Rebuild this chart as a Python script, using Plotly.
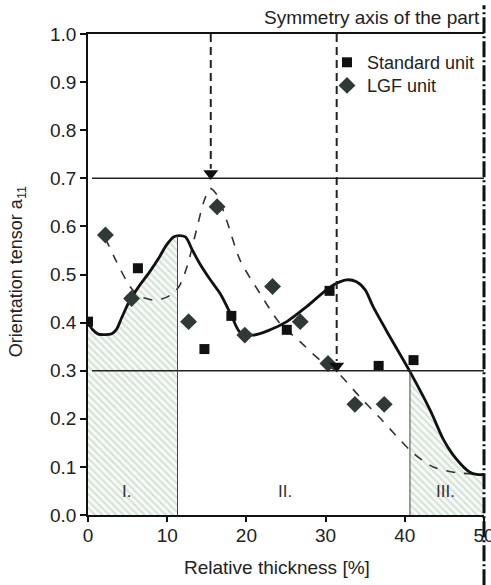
import numpy as np
import plotly.graph_objects as go

# ---------------- data ----------------
std_x = [0, 6.3, 14.7, 18.1, 25.1, 30.5, 36.7, 41.1]
std_y = [0.402, 0.513, 0.345, 0.414, 0.385, 0.466, 0.31, 0.322]

lgf_x = [2.2, 5.5, 12.7, 16.3, 19.8, 23.3, 26.8, 30.3, 33.7, 37.4]
lgf_y = [0.582, 0.45, 0.402, 0.641, 0.374, 0.475, 0.402, 0.315, 0.230, 0.230]

fit_std_x = [0, 0.6, 1.3, 2.2, 3.0, 3.6, 4.25, 5.3, 6.5, 7.8, 9.0, 9.9, 10.8, 11.5,
             12.3, 13.2, 14.1, 15.4, 16.7, 18.1, 19.2, 20.9, 23.0, 25.1, 27.6,
             30.1, 31.4, 32.7, 33.9, 35.0, 36.0, 38.1, 40.65, 43.2, 44.9, 46.0,
             47.0, 47.8, 48.6, 49.3, 50]
fit_std_y = [0.40, 0.385, 0.376, 0.375, 0.377, 0.386, 0.41, 0.447, 0.477, 0.506,
             0.536, 0.561, 0.578, 0.581, 0.578, 0.55, 0.523, 0.49, 0.46, 0.415,
             0.380, 0.374, 0.385, 0.402, 0.433, 0.468, 0.482, 0.489, 0.485, 0.468,
             0.433, 0.371, 0.298, 0.218, 0.156, 0.127, 0.107, 0.094, 0.086, 0.084,
             0.084]

fit_lgf_x = [2.2, 3.5, 5.3, 6.5, 8.2, 9.3, 10.4, 11.5, 12.5, 13.7, 14.6, 15.4,
             16.3, 17.5, 19.2, 21.7, 24.2, 26.8, 29.3, 31.4, 34.3, 36.9, 39.4,
             41.1, 43.6, 46.5, 50]
fit_lgf_y = [0.575, 0.53, 0.475, 0.455, 0.447, 0.449, 0.457, 0.475, 0.516, 0.593,
             0.65, 0.679, 0.665, 0.613, 0.530, 0.461, 0.399, 0.360, 0.322, 0.298,
             0.246, 0.201, 0.156, 0.128, 0.10, 0.088, 0.085]

region_bounds = [11.3, 40.65]
levels = [0.7, 0.3]
arrow_x = [15.5, 31.4]
region_labels = ["I.", "II.", "III."]
region_label_x = [4.8, 24.9, 45.1]

# ---------------- figure ----------------
fig = go.Figure()

hatch = dict(shape="\\", fgcolor="#b0c8b4", bgcolor="#f6f9f6", size=5, solidity=0.35)

fx = np.array(fit_std_x)
fy = np.array(fit_std_y)
# region I fill
m1 = fx < region_bounds[0]
r1x = list(fx[m1]) + [region_bounds[0]]
r1y = list(fy[m1]) + [float(np.interp(region_bounds[0], fx, fy))]
# region III fill
m3 = fx > region_bounds[1]
r3x = [region_bounds[1]] + list(fx[m3])
r3y = [float(np.interp(region_bounds[1], fx, fy))] + list(fy[m3])

for rx, ry in [(r1x, r1y), (r3x, r3y)]:
    fig.add_trace(go.Scatter(x=rx, y=ry, mode="lines", line=dict(width=0, shape="spline", smoothing=0.8),
                             fill="tozeroy", fillcolor="#f6f9f6", fillpattern=hatch,
                             showlegend=False, hoverinfo="skip"))

# fitted curves
fig.add_trace(go.Scatter(x=fit_lgf_x, y=fit_lgf_y, mode="lines",
                         line=dict(color="#333333", width=1.6, dash="dash", shape="spline", smoothing=0.8),
                         showlegend=False, hoverinfo="skip"))
fig.add_trace(go.Scatter(x=fit_std_x, y=fit_std_y, mode="lines",
                         line=dict(color="#111111", width=2.8, shape="spline", smoothing=0.8),
                         showlegend=False, hoverinfo="skip"))

# data points
fig.add_trace(go.Scatter(x=std_x, y=std_y, mode="markers", name="Standard unit",
                         legend="legend",
                         marker=dict(symbol="square", size=10, color="#111111")))
fig.add_trace(go.Scatter(x=lgf_x, y=lgf_y, mode="markers", name="LGF unit",
                         legend="legend2",
                         marker=dict(symbol="diamond", size=13, color="#2f3a37")))

# arrow heads
fig.add_trace(go.Scatter(x=arrow_x, y=[l + 0.01 for l in levels], mode="markers",
                         marker=dict(symbol="triangle-down", size=13, color="#111111"),
                         showlegend=False, hoverinfo="skip"))

shapes = []
# horizontal level lines
for lv in levels:
    shapes.append(dict(type="line", xref="x", yref="y", x0=0.5, x1=50, y0=lv, y1=lv,
                       line=dict(color="#222222", width=1.6)))
# region boundary verticals
for b in region_bounds:
    shapes.append(dict(type="line", xref="x", yref="y", x0=b, x1=b, y0=0,
                       y1=float(np.interp(b, fx, fy)),
                       line=dict(color="#444444", width=1)))
# dashed arrows
for ax_, lv in zip(arrow_x, levels):
    shapes.append(dict(type="line", xref="x", yref="y", x0=ax_, x1=ax_, y0=1.0, y1=lv + 0.02,
                       line=dict(color="#222222", width=2, dash="8px,5px")))
# symmetry axis
shapes.append(dict(type="line", xref="paper", yref="paper", x0=1, x1=1, y0=-0.146, y1=1.06,
                   line=dict(color="#111111", width=3, dash="16px,3px,2px,3px")))

annotations = [
    dict(text="Symmetry axis of the part", xref="paper", yref="paper", x=1, y=1.035,
         xanchor="right", yanchor="middle", xshift=-2, showarrow=False,
         font=dict(size=19, color="#222222")),
    dict(text="Relative thickness [%]", xref="paper", yref="paper", x=0.477, y=-0.110,
         xanchor="center", yanchor="middle", showarrow=False,
         font=dict(size=19, color="#222222")),
    dict(text="Orientation tensor a<sub>11</sub>", xref="paper", yref="paper", x=-0.179, y=0.505,
         xanchor="center", yanchor="middle", textangle=-90, showarrow=False,
         font=dict(size=18, color="#222222")),
]
for lab, lx in zip(region_labels, region_label_x):
    annotations.append(dict(text=lab, xref="x", yref="paper", x=lx, y=0.048,
                            xanchor="center", yanchor="middle",
                            showarrow=False, font=dict(size=17, color="#333333")))

legend_common = dict(x=0.6035, xanchor="left", yanchor="top",
                     bgcolor="rgba(0,0,0,0)", font=dict(size=18, color="#222222"))

fig.update_layout(
    width=491, height=585,
    margin=dict(l=88, r=7, t=34, b=70, autoexpand=False),
    paper_bgcolor="white", plot_bgcolor="white",
    font=dict(family="Liberation Sans, Arial, sans-serif", size=18, color="#222222"),
    shapes=shapes, annotations=annotations,
    legend=dict(y=0.979, **legend_common),
    legend2=dict(y=0.931, **legend_common),
    xaxis=dict(range=[0, 50], tickvals=[0, 10, 20, 30, 40, 50], showgrid=False, zeroline=False,
               showline=True, linecolor="#111111", linewidth=1.6, mirror=True,
               ticks="outside", ticklen=5, tickcolor="#111111", tickwidth=1.5,
               ticklabeloverflow="allow", ticklabelstandoff=-3,
               tickfont=dict(size=19, color="#222222")),
    yaxis=dict(range=[0, 1], dtick=0.1, tickformat=".1f", showgrid=False, zeroline=False,
               showline=True, linecolor="#111111", linewidth=1.6,
               ticks="outside", ticklen=6, tickcolor="#111111", tickwidth=1.5,
               tickfont=dict(size=19, color="#222222")),
)

fig.write_html("out.html", config={"displayModeBar": False},
               post_script="document.body.style.margin='0';")
